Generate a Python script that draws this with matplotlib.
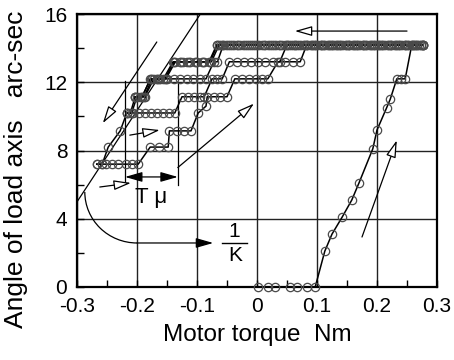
import matplotlib
matplotlib.use("Agg")
import matplotlib.pyplot as plt
from matplotlib.patches import Arc

plt.rcParams['font.family'] = ['Liberation Sans', 'DejaVu Sans']

# ---------------- data ----------------
# initial loading from zero
p0_x = [0.002, 0.018, 0.030, 0.055, 0.067, 0.083, 0.097, 0.113, 0.125, 0.142, 0.158,
        0.170, 0.193, 0.200, 0.216, 0.222, 0.233, 0.240, 0.247, 0.258, 0.266, 0.277]
p0_y = [0, 0, 0, 0, 0, 0, 0, 2.1, 3.1, 4.1, 5.1,
        6.1, 8.1, 9.2, 10.5, 11.0, 12.2, 12.2, 12.2, 14.2, 14.2, 14.2]

# unloading down to 7.2 arc-sec
p1_x = [0.277, 0.263, 0.249, 0.235, 0.221, 0.207, 0.193, 0.179, 0.165, 0.151, 0.137, 0.123, 0.109,
        0.095, 0.081, 0.067, 0.053, 0.039, 0.025, 0.011, -0.003, -0.017, -0.031, -0.045, -0.057, -0.067,
        -0.080, -0.092, -0.104, -0.116, -0.128, -0.140,
        -0.156, -0.167, -0.178,
        -0.191, -0.203,
        -0.211, -0.217,
        -0.228, -0.248, -0.258, -0.267]
p1_y = [14.2, 14.2, 14.2, 14.2, 14.2, 14.2, 14.2, 14.2, 14.2, 14.2, 14.2, 14.2, 14.2,
        14.2, 14.2, 14.2, 14.2, 14.2, 14.2, 14.2, 14.2, 14.2, 14.2, 14.2, 14.2, 14.2,
        13.2, 13.2, 13.2, 13.2, 13.2, 13.2,
        12.2, 12.2, 12.2,
        11.15, 11.15,
        10.2, 10.2,
        9.15, 8.2, 7.2, 7.2]

# reloading from 7.2 arc-sec
p2_x = [-0.267, -0.259, -0.251, -0.242, -0.232, -0.219, -0.208, -0.198,
        -0.178, -0.164, -0.148,
        -0.146, -0.134, -0.122, -0.110,
        -0.098, -0.085,
        -0.083, -0.072, -0.062, -0.050,
        -0.037, -0.025, -0.013, -0.001, 0.009, 0.018,
        0.035, 0.047, 0.060, 0.072,
        0.083, 0.097, 0.111, 0.125, 0.139, 0.153, 0.167, 0.181, 0.195, 0.209, 0.223, 0.237, 0.251, 0.264, 0.277]
p2_y = [7.2, 7.2, 7.2, 7.2, 7.2, 7.2, 7.2, 7.2,
        8.2, 8.2, 8.2,
        9.15, 9.15, 9.15, 9.15,
        10.2, 10.6,
        11.15, 11.15, 11.15, 11.15,
        12.2, 12.2, 12.2, 12.2, 12.2, 12.2,
        13.2, 13.2, 13.2, 13.2,
        14.2, 14.2, 14.2, 14.2, 14.2, 14.2, 14.2, 14.2, 14.2, 14.2, 14.2, 14.2, 14.2, 14.2, 14.2]

# unloading down to 10.2 arc-sec
p3_x = [0.270, 0.256, 0.242, 0.228, 0.214, 0.200, 0.186, 0.172, 0.158, 0.144, 0.130, 0.116, 0.102,
        0.088, 0.074, 0.060, 0.046, 0.032, 0.018, 0.004, -0.010, -0.024, -0.038, -0.052, -0.063,
        -0.076, -0.088, -0.100, -0.112, -0.124, -0.136,
        -0.152, -0.164, -0.175,
        -0.188, -0.200,
        -0.209, -0.217]
p3_y = [14.2, 14.2, 14.2, 14.2, 14.2, 14.2, 14.2, 14.2, 14.2, 14.2, 14.2, 14.2, 14.2,
        14.2, 14.2, 14.2, 14.2, 14.2, 14.2, 14.2, 14.2, 14.2, 14.2, 14.2, 14.2,
        13.2, 13.2, 13.2, 13.2, 13.2, 13.2,
        12.2, 12.2, 12.2,
        11.15, 11.15,
        10.2, 10.2]

# reloading from 10.2 arc-sec
p4_x = [-0.217, -0.207, -0.197, -0.187, -0.177, -0.167, -0.157, -0.147, -0.137,
        -0.125, -0.115, -0.105, -0.095, -0.088,
        -0.075, -0.066, -0.058,
        -0.046, -0.034, -0.022, -0.010, 0.002, 0.014, 0.026, 0.038,
        0.050, 0.064, 0.078, 0.092, 0.106, 0.120, 0.134, 0.148, 0.162, 0.176, 0.190, 0.204, 0.218,
        0.232, 0.246, 0.260, 0.274]
p4_y = [10.2, 10.2, 10.2, 10.2, 10.2, 10.2, 10.2, 10.2, 10.2,
        11.15, 11.15, 11.15, 11.15, 11.15,
        12.2, 12.2, 12.2,
        13.2, 13.2, 13.2, 13.2, 13.2, 13.2, 13.2, 13.2,
        14.2, 14.2, 14.2, 14.2, 14.2, 14.2, 14.2, 14.2, 14.2, 14.2, 14.2, 14.2, 14.2,
        14.2, 14.2, 14.2, 14.2]

# unloading down to 11.15 arc-sec
p5_x = [0.274, 0.260, 0.246, 0.232, 0.218, 0.204, 0.190, 0.176, 0.162, 0.148, 0.134, 0.120, 0.106,
        0.092, 0.078, 0.064, 0.050, 0.036, 0.022, 0.008, -0.006, -0.020, -0.034, -0.048, -0.060, -0.066,
        -0.078, -0.090, -0.102, -0.114, -0.126, -0.138,
        -0.154, -0.166, -0.177,
        -0.192, -0.203]
p5_y = [14.2, 14.2, 14.2, 14.2, 14.2, 14.2, 14.2, 14.2, 14.2, 14.2, 14.2, 14.2, 14.2,
        14.2, 14.2, 14.2, 14.2, 14.2, 14.2, 14.2, 14.2, 14.2, 14.2, 14.2, 14.2, 14.2,
        13.2, 13.2, 13.2, 13.2, 13.2, 13.2,
        12.2, 12.2, 12.2,
        11.15, 11.15]

# reloading from 11.15 arc-sec
p6_x = [-0.203, -0.195, -0.187,
        -0.172, -0.161, -0.150, -0.139, -0.128, -0.117, -0.106, -0.095, -0.085,
        -0.072, -0.066,
        -0.056, -0.042, -0.028, -0.014, 0.000, 0.014, 0.028, 0.042, 0.056, 0.070, 0.084, 0.098, 0.112,
        0.126, 0.140, 0.154, 0.168, 0.182, 0.196, 0.210, 0.224, 0.238, 0.252, 0.266, 0.276]
p6_y = [11.15, 11.15, 11.15,
        12.2, 12.2, 12.2, 12.2, 12.2, 12.2, 12.2, 12.2, 12.2,
        13.2, 13.2,
        14.2, 14.2, 14.2, 14.2, 14.2, 14.2, 14.2, 14.2, 14.2, 14.2, 14.2, 14.2, 14.2,
        14.2, 14.2, 14.2, 14.2, 14.2, 14.2, 14.2, 14.2, 14.2, 14.2, 14.2, 14.2]

x_ticks = [-0.3, -0.2, -0.1, 0.0, 0.1, 0.2, 0.3]
x_tick_labels = ['-0.3', '-0.2', '-0.1', '0', '0.1', '0.2', '0.3']
x_minor = [-0.25, -0.15, -0.05, 0.05, 0.15, 0.25]
y_ticks = [0, 4, 8, 12, 16]
y_tick_labels = ['0', '4', '8', '12', '16']
y_minor = [2, 6, 10, 14]

# stiffness guide line (two points on it)
k_line_x = [-0.3, -0.0944]
k_line_y = [4.99, 16.0]

# ---------------- figure ----------------
fig = plt.figure(figsize=(4.54, 3.6), dpi=100)
ax = fig.add_axes([77/454, 73/360, 360/454, 273/360])

ax.set_xlim(-0.3, 0.3)
ax.set_ylim(0, 16)
ax.set_xticks(x_ticks)
ax.set_xticklabels(x_tick_labels)
ax.set_yticks(y_ticks)
ax.set_yticklabels(y_tick_labels)
ax.set_xticks(x_minor, minor=True)
ax.set_yticks(y_minor, minor=True)
ax.tick_params(which='both', direction='in', top=False, right=False,
               length=5, width=1.0, labelsize=15, pad=7)
ax.grid(True, which='major', color='#222222', lw=1.0)
ax.set_axisbelow(True)
for s in ax.spines.values():
    s.set_linewidth(1.6)

ax.set_xlabel('Motor torque  Nm', fontsize=17.5, labelpad=6)
ax.set_ylabel('Angle of load axis   arc-sec', fontsize=19)
ax.yaxis.set_label_coords(-0.135, 0.43)

# guide line (slope K)
ax.plot(k_line_x, k_line_y, color='black', lw=0.9, zorder=2)

paths = [(p0_x, p0_y), (p1_x, p1_y), (p2_x, p2_y), (p3_x, p3_y),
         (p4_x, p4_y), (p5_x, p5_y), (p6_x, p6_y)]
for px, py in paths:
    ax.plot(px, py, '-', color='black', lw=1.1, zorder=3, clip_on=False)
    ax.plot(px, py, 'o', ms=6, mfc='none', mec='#4a4a4a', mew=0.9,
            zorder=4, clip_on=False)


def arrow(x0, y0, x1, y1, filled=False, style='-|>'):
    ax.annotate('', xy=(x1, y1), xytext=(x0, y0),
                arrowprops=dict(arrowstyle=style + ',head_length=1.05,head_width=0.3',
                                fc='black' if filled else 'white', ec='black',
                                lw=0.9, shrinkA=0, shrinkB=0, mutation_scale=10),
                zorder=6)


# direction arrows (open heads)
arrow(-0.167, 14.36, -0.257, 9.6)
arrow(-0.212, 8.9, -0.162, 9.2)
arrow(-0.262, 5.86, -0.210, 6.1)
arrow(-0.132, 7.0, -0.005, 10.75)
arrow(0.25, 15.0, 0.063, 15.0)
arrow(0.175, 2.93, 0.233, 8.6)

# T mu construction
ax.plot([-0.22, -0.22], [6.15, 12.1], color='black', lw=0.9, zorder=2)
ax.plot([-0.132, -0.132], [6.0, 12.0], color='black', lw=0.9, zorder=2)
arrow(-0.22, 6.45, -0.132, 6.45, filled=True, style='<|-|>')
ax.text(-0.176, 5.25, 'T μ', fontsize=16, ha='center', va='center', zorder=7)

# 1/K curved arrow
ax.add_patch(Arc((-0.2, 5.57), 0.174, 5.98, theta1=180, theta2=270,
                 color='black', lw=0.9, zorder=5))
arrow(-0.2, 2.58, -0.073, 2.58, filled=True)
ax.text(-0.038, 3.25, '1', fontsize=15, ha='center', va='center')
ax.plot([-0.058, -0.017], [2.58, 2.58], color='black', lw=1.0)
ax.text(-0.037, 1.85, 'K', fontsize=15, ha='center', va='center')

fig.savefig('out.png', dpi=100)
